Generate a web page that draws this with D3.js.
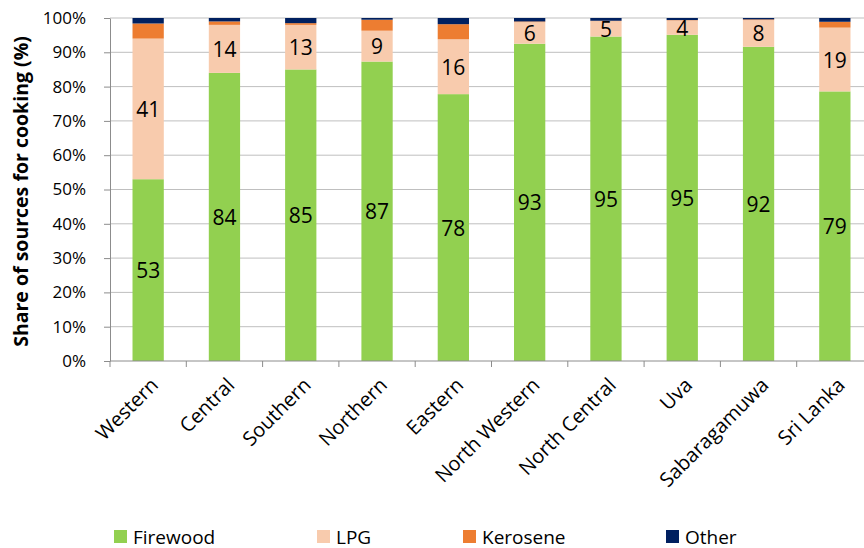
<!DOCTYPE html>
<html>
<head>
<meta charset="utf-8">
<script src="https://cdn.jsdelivr.net/npm/d3@7"></script>
<style>
  body { margin: 0; background: #fff; }
  text { font-family: "Open Sans", "Liberation Sans", sans-serif; }
</style>
</head>
<body>
<div id="viz"></div>
<script>
const regions = ["Western", "Central", "Southern", "Northern", "Eastern",
  "North Western", "North Central", "Uva", "Sabaragamuwa", "Sri Lanka"];
const firewood = [53.0, 84.0, 85.0, 87.3, 77.8, 92.5, 94.6, 95.1, 91.6, 78.6];
const lpg      = [41.0, 14.0, 13.0, 9.0, 16.0, 6.3, 4.5, 4.2, 7.8, 18.6];
const kerosene = [4.4, 1.0, 0.5, 3.2, 4.4, 0.2, 0.1, 0.1, 0.2, 1.7];
const other    = [1.6, 1.0, 1.5, 0.5, 1.8, 1.0, 0.8, 0.6, 0.4, 1.1];
const seriesNames = ["Firewood", "LPG", "Kerosene", "Other"];
const colors = ["#92D050", "#F8CBAD", "#ED7D31", "#002060"];
const yTicks = [0, 10, 20, 30, 40, 50, 60, 70, 80, 90, 100];

const W = 864, H = 548;
const margin = { left: 110, top: 18, right: -9, bottom: 187 };

const rows = regions.map((r, i) => ({
  region: r, Firewood: firewood[i], LPG: lpg[i], Kerosene: kerosene[i], Other: other[i]
}));
const stacked = d3.stack().keys(seriesNames)(rows);

const svg = d3.select("#viz").append("svg").attr("width", W).attr("height", H);

const x = d3.scaleBand().domain(regions)
  .range([margin.left, W - margin.right]).paddingInner(0.59).paddingOuter(0.295);
const y = d3.scaleLinear().domain([0, 100]).range([H - margin.bottom, margin.top]);

// gridlines
svg.append("g").selectAll("line").data(yTicks.slice(1)).join("line")
  .attr("x1", margin.left).attr("x2", W)
  .attr("y1", d => y(d)).attr("y2", d => y(d))
  .attr("stroke", "#bfbfbf").attr("stroke-width", 1);

// bars
svg.append("g").selectAll("g").data(stacked).join("g")
  .attr("fill", (d, i) => colors[i])
  .selectAll("rect").data(d => d).join("rect")
  .attr("x", d => x(d.data.region))
  .attr("width", x.bandwidth())
  .attr("y", d => y(d[1]))
  .attr("height", d => y(d[0]) - y(d[1]));

// labels for firewood and LPG
stacked.slice(0, 2).forEach(s => {
  svg.append("g").selectAll("text").data(s).join("text")
    .attr("x", d => x(d.data.region) + x.bandwidth() / 2)
    .attr("y", d => (y(d[0]) + y(d[1])) / 2)
    .attr("text-anchor", "middle").attr("dominant-baseline", "central")
    .style("font-size", "21px").attr("fill", "#000")
    .text(d => d3.format(".0f")(d[1] - d[0]));
});

// y axis
const yAxis = svg.append("g").attr("transform", `translate(${margin.left},0)`)
  .call(d3.axisLeft(y).tickValues(yTicks).tickSize(6).tickSizeOuter(0).tickFormat(d => d + "%"));
yAxis.select(".domain").attr("stroke", "#8c8c8c");
yAxis.selectAll(".tick line").attr("stroke", "#8c8c8c");
yAxis.selectAll(".tick text").style("font-size", "17px").attr("fill", "#000").attr("x", -24);

// x axis
const step = x.step();
const xAxis = svg.append("g").attr("transform", `translate(0,${y(0)})`);
xAxis.append("line").attr("x1", margin.left).attr("x2", W)
  .attr("stroke", "#8c8c8c");
xAxis.selectAll(".tk").data(d3.range(regions.length + 1)).join("line")
  .attr("x1", i => margin.left + i * step).attr("x2", i => margin.left + i * step)
  .attr("y1", 0).attr("y2", 6).attr("stroke", "#8c8c8c");
xAxis.selectAll(".lbl").data(regions).join("text")
  .attr("transform", d => `translate(${x(d) + x.bandwidth() / 2 + 6},${20}) rotate(-45)`)
  .attr("text-anchor", "end").attr("dominant-baseline", "central")
  .style("font-size", "20px").attr("fill", "#000")
  .text(d => d);

// y title
svg.append("text")
  .attr("transform", `translate(20,${(y(0) + y(100)) / 2 + 2}) rotate(-90)`)
  .attr("text-anchor", "middle").attr("dominant-baseline", "central")
  .style("font-size", "19.5px").style("font-weight", "bold").attr("fill", "#000")
  .text("Share of sources for cooking (%)");

// legend
const legendX = [114, 317, 463, 666];
const legend = svg.append("g").selectAll("g").data(seriesNames).join("g")
  .attr("transform", (d, i) => `translate(${legendX[i]},536.5)`);
legend.append("rect").attr("x", 0).attr("y", -6.5).attr("width", 13).attr("height", 13)
  .attr("fill", (d, i) => colors[i]);
legend.append("text").attr("x", 19).attr("dominant-baseline", "central")
  .style("font-size", "19px").attr("fill", "#000").text(d => d);
</script>
</body>
</html>
